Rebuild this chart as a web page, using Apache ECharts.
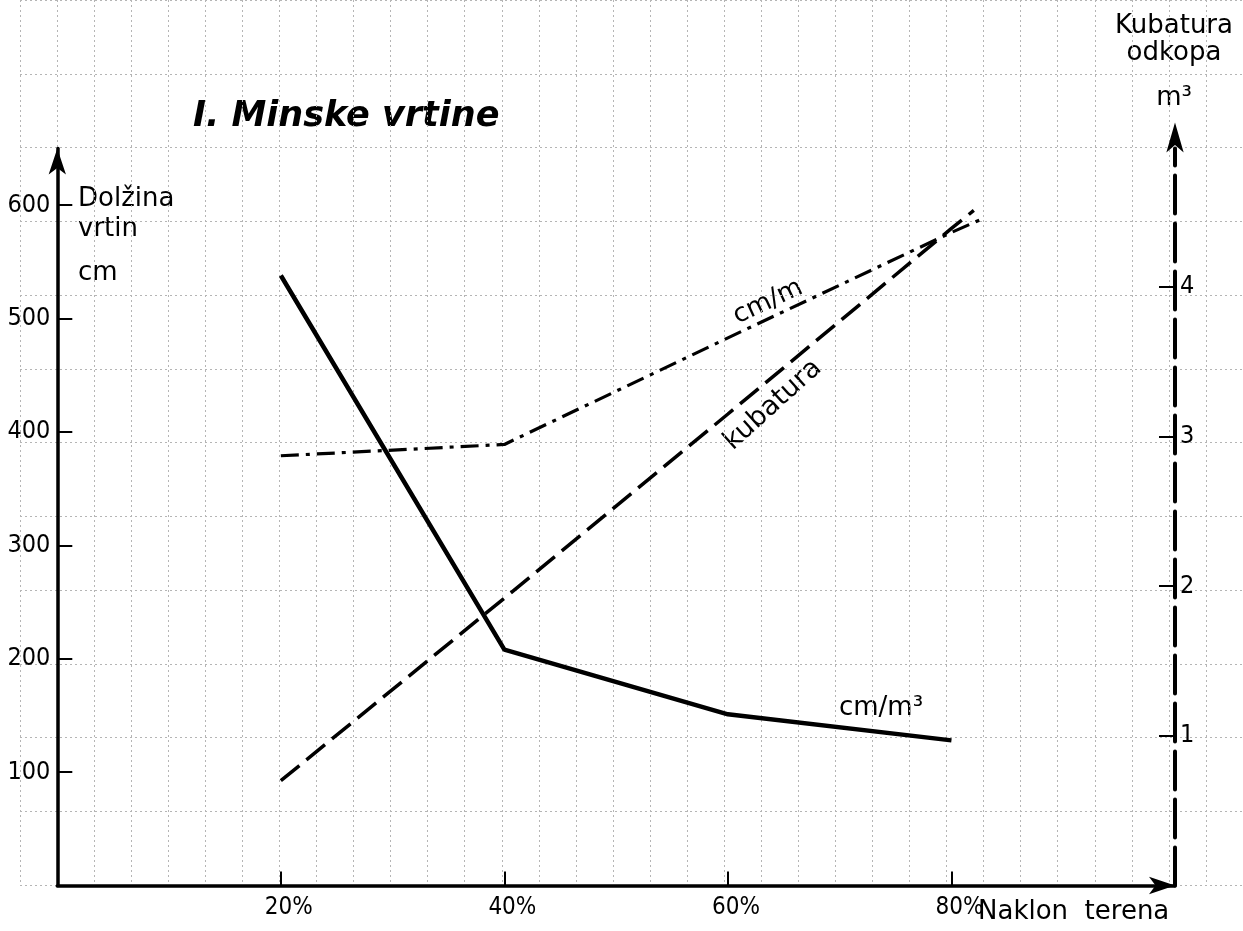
<!DOCTYPE html>
<html><head><meta charset="utf-8">
<script src="https://cdn.jsdelivr.net/npm/echarts@6/dist/echarts.min.js"></script>
<style>html,body{margin:0;padding:0;background:#fff}#c{width:1243px;height:931px}</style>
</head><body><div id="c"></div>
<script>
// ---- data ----
const naklon = [20, 40, 60, 80];                 // Naklon terena (%)
const cmM3 = [538, 208, 151, 128];               // cm/m³ (solid, left axis)
const cmMX = [20, 40, 60, 80, 83];
const cmM = [379, 389, 483, 576, 589];           // cm/m (dash-dot, left axis)
const kubX = [20, 40, 60, 80, 82];
const kubatura = [0.70, 1.92, 3.15, 4.39, 4.51]; // kubatura m³ (dashed, right axis)
const xTickLabels = [20, 40, 60, 80];
const leftTickLabels = [100, 200, 300, 400, 500, 600];
const rightTickLabels = [1, 2, 3, 4];

const zip = (xs, ys) => xs.map((x, i) => [x, ys[i]]);
const numFont = 'DejaVu Sans Condensed';
const gridLine = {show: true, lineStyle: {color: '#b5b5b5', type: [2, 3], width: 1}};

const chart = echarts.init(document.getElementById('c'), null, {renderer: 'canvas'});
chart.setOption({
  animation: false,
  backgroundColor: '#fff',
  grid: [
    {left: 57.3, right: 68, top: 148.5, bottom: 45.5},
    {left: 20, right: -6.8, top: -13, bottom: 46}
  ],
  xAxis: [
    {
      gridIndex: 0, type: 'value', min: 0, max: 100, interval: 20,
      axisLine: {show: true, onZero: false, symbol: ['none', 'arrow'], symbolSize: [13, 26],
                 lineStyle: {color: '#000', width: 3.5}},
      axisTick: {show: true, inside: true, length: 14, customValues: xTickLabels,
                 lineStyle: {color: '#000', width: 2}},
      axisLabel: {show: true, customValues: xTickLabels, margin: 10, color: '#000',
                  fontFamily: numFont, fontSize: 24, padding: [0, 0, 0, 16],
                  formatter: v => v + '%'},
      splitLine: {show: false}
    },
    {
      gridIndex: 1, type: 'value', min: -10 / 3, max: 320 / 3, interval: 10 / 3,
      axisLine: {show: false}, axisTick: {show: false}, axisLabel: {show: false},
      splitLine: gridLine
    }
  ],
  yAxis: [
    {
      gridIndex: 0, type: 'value', position: 'left', min: 0, max: 650, interval: 100,
      axisLine: {show: true, onZero: false, symbol: ['none', 'arrow'], symbolSize: [13, 26],
                 lineStyle: {color: '#000', width: 3.5}},
      axisTick: {show: true, inside: true, length: 15, customValues: leftTickLabels,
                 lineStyle: {color: '#000', width: 2}},
      axisLabel: {show: true, customValues: leftTickLabels, margin: 7, color: '#000',
                  fontFamily: numFont, fontSize: 25},
      splitLine: {show: false}
    },
    {
      gridIndex: 0, type: 'value', position: 'right', min: 0, max: 4.924, interval: 1,
      axisLine: {show: true, onZero: false, symbol: ['none', 'arrow'], symbolSize: [13, 30],
                 symbolOffset: [0, 26],
                 lineStyle: {color: '#000', width: 4, type: [38, 10]}},
      axisTick: {show: true, inside: true, length: 16, customValues: rightTickLabels,
                 lineStyle: {color: '#000', width: 2}},
      axisLabel: {show: true, customValues: rightTickLabels, margin: 5, color: '#000',
                  fontFamily: numFont, fontSize: 25},
      splitLine: {show: false}
    },
    {
      gridIndex: 1, type: 'value', min: 0, max: 6, interval: 0.5,
      axisLine: {show: false}, axisTick: {show: false}, axisLabel: {show: false},
      splitLine: gridLine
    }
  ],
  series: [
    {
      name: 'cm/m³', type: 'line', xAxisIndex: 0, yAxisIndex: 0,
      data: zip(naklon, cmM3), symbol: 'none', z: 5,
      lineStyle: {color: '#000', width: 4.5}
    },
    {
      name: 'cm/m', type: 'line', xAxisIndex: 0, yAxisIndex: 0,
      data: zip(cmMX, cmM), symbol: 'none', z: 5,
      lineStyle: {color: '#000', width: 3.2, type: [18, 7, 4, 7]}
    },
    {
      name: 'kubatura', type: 'line', xAxisIndex: 0, yAxisIndex: 1,
      data: zip(kubX, kubatura), symbol: 'none', z: 5,
      lineStyle: {color: '#000', width: 3.5, type: [24, 9]}
    }
  ],
  graphic: [
    {type: 'text', x: 193, y: 117, style: {text: 'I. Minske vrtine', fill: '#000',
      font: 'italic bold 35px "DejaVu Sans"', textAlign: 'left', textVerticalAlign: 'middle'}},
    {type: 'text', x: 78, y: 199, style: {text: 'Dolžina', fill: '#000', font: '26px "DejaVu Sans"', textVerticalAlign: 'middle'}},
    {type: 'text', x: 78, y: 229, style: {text: 'vrtin', fill: '#000', font: '26px "DejaVu Sans"', textVerticalAlign: 'middle'}},
    {type: 'text', x: 78, y: 273, style: {text: 'cm', fill: '#000', font: '26px "DejaVu Sans"', textVerticalAlign: 'middle'}},
    {type: 'text', x: 1174, y: 26, style: {text: 'Kubatura', fill: '#000', font: '26px "DejaVu Sans"', textAlign: 'center', textVerticalAlign: 'middle'}},
    {type: 'text', x: 1174, y: 53, style: {text: 'odkopa', fill: '#000', font: '26px "DejaVu Sans"', textAlign: 'center', textVerticalAlign: 'middle'}},
    {type: 'text', x: 1174, y: 98, style: {text: 'm³', fill: '#000', font: '26px "DejaVu Sans"', textAlign: 'center', textVerticalAlign: 'middle'}},
    {type: 'text', x: 978, y: 912, style: {text: 'Naklon  terena', fill: '#000', font: '26px "DejaVu Sans"', textAlign: 'left', textVerticalAlign: 'middle'}},
    {type: 'text', x: 768, y: 302, rotation: 25 * Math.PI / 180, style: {text: 'cm/m', fill: '#000', font: '26px "DejaVu Sans"', textAlign: 'center', textVerticalAlign: 'middle'}},
    {type: 'text', x: 773, y: 405, rotation: 42 * Math.PI / 180, style: {text: 'kubatura', fill: '#000', font: '27px "DejaVu Sans"', textAlign: 'center', textVerticalAlign: 'middle'}},
    {type: 'text', x: 881, y: 708, style: {text: 'cm/m³', fill: '#000', font: '26px "DejaVu Sans"', textAlign: 'center', textVerticalAlign: 'middle'}}
  ]
});
</script>
</body></html>
